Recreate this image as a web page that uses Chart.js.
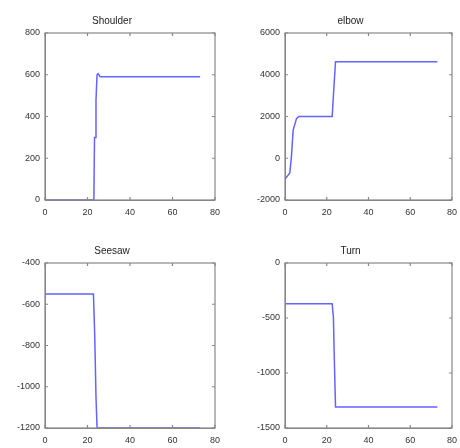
<!DOCTYPE html>
<html>
<head>
<meta charset="utf-8">
<script src="https://cdn.jsdelivr.net/npm/chart.js@4.4.0/dist/chart.umd.min.js"></script>
<style>
  body { margin: 0; background: #fff; }
  #wrap { position: relative; width: 460px; height: 448px; }
  canvas { position: absolute; }
</style>
</head>
<body>
<div id="wrap">
  <canvas id="shoulder"></canvas>
  <canvas id="elbow"></canvas>
  <canvas id="seesaw"></canvas>
  <canvas id="turn"></canvas>
</div>
<script>
// x ticks shared by all four plots
var xTicks = [0, 20, 40, 60, 80];

// Shoulder
var shoulderX = [0, 22.5, 23, 23.3, 23.6, 24, 24.5, 25, 26, 73];
var shoulderY = [0, 0, 0, 300, 300, 480, 600, 605, 590, 590];
var shoulderTicks = [0, 200, 400, 600, 800];

// elbow
var elbowX = [0, 2.3, 3.1, 3.9, 5.5, 6.7, 22.6, 23.4, 24.2, 73];
var elbowY = [-1000, -700, 100, 1350, 1900, 2000, 2000, 3350, 4620, 4620];
var elbowTicks = [-2000, 0, 2000, 4000, 6000];

// Seesaw
var seesawX = [0, 22.8, 23.4, 24, 24.5, 73];
var seesawY = [-550, -550, -750, -1050, -1200, -1200];
var seesawTicks = [-1200, -1000, -800, -600, -400];

// Turn
var turnX = [0, 22.6, 23.2, 23.6, 24.2, 73];
var turnY = [-370, -370, -500, -850, -1310, -1310];
var turnTicks = [-1500, -1000, -500, 0];

var FONT = "'Liberation Sans', Arial, sans-serif";

// box around the plot area with small ticks pointing inward (matlab style)
var boxPlugin = {
    id: 'box',
    afterDraw: function(chart) {
        var ctx = chart.ctx;
        var a = chart.chartArea;
        var xs = chart.scales.x;
        var ys = chart.scales.y;
        ctx.save();
        ctx.strokeStyle = '#888';
        ctx.lineWidth = 1.2;
        ctx.strokeRect(a.left, a.top, a.right - a.left, a.bottom - a.top);
        ctx.beginPath();
        xs.ticks.forEach(function(t) {
            var px = xs.getPixelForValue(t.value);
            ctx.moveTo(px, a.bottom); ctx.lineTo(px, a.bottom - 3);
            ctx.moveTo(px, a.top); ctx.lineTo(px, a.top + 3);
        });
        ys.ticks.forEach(function(t) {
            var py = ys.getPixelForValue(t.value);
            ctx.moveTo(a.left, py); ctx.lineTo(a.left + 3, py);
            ctx.moveTo(a.right, py); ctx.lineTo(a.right - 3, py);
        });
        ctx.stroke();
        ctx.restore();
    }
};

function makePlot(id, title, xVals, yVals, yTicks, box) {
    var canvas = document.getElementById(id);
    canvas.width = 40 + box.w + 8;
    canvas.height = 24 + box.h + 20;
    canvas.style.left = (box.left - 40) + 'px';
    canvas.style.top = (box.top - 24) + 'px';

    var points = xVals.map(function(x, i) { return { x: x, y: yVals[i] }; });

    new Chart(canvas, {
        type: 'line',
        data: {
            datasets: [{
                data: points,
                borderColor: '#6464ff',
                borderWidth: 1.5,
                pointRadius: 0,
                tension: 0,
                fill: false
            }]
        },
        options: {
            responsive: false,
            animation: false,
            layout: { padding: { left: 0, right: 8, top: 0, bottom: 0 } },
            plugins: {
                legend: { display: false },
                tooltip: { enabled: false },
                title: {
                    display: true,
                    text: title,
                    color: '#222',
                    font: { family: FONT, size: 10, weight: 'normal' },
                    padding: { top: 6, bottom: 6 }
                }
            },
            scales: {
                x: {
                    type: 'linear',
                    min: xTicks[0],
                    max: xTicks[xTicks.length - 1],
                    afterBuildTicks: function(s) { s.ticks = xTicks.map(function(v) { return { value: v }; }); },
                    afterFit: function(s) { s.height = 20; },
                    grid: { drawOnChartArea: false, drawTicks: false },
                    border: { display: true, color: '#888' },
                    ticks: {
                        color: '#333', padding: 7, maxRotation: 0,
                        font: { family: FONT, size: 9 },
                        callback: function(v) { return String(v); }
                    }
                },
                y: {
                    type: 'linear',
                    min: yTicks[0],
                    max: yTicks[yTicks.length - 1],
                    afterBuildTicks: function(s) { s.ticks = yTicks.map(function(v) { return { value: v }; }); },
                    afterFit: function(s) { s.width = 40; },
                    grid: { drawOnChartArea: false, drawTicks: false },
                    border: { display: true, color: '#888' },
                    ticks: {
                        color: '#333', padding: 5,
                        font: { family: FONT, size: 9 },
                        callback: function(v) { return String(v); }
                    }
                }
            }
        },
        plugins: [boxPlugin]
    });
}

makePlot('shoulder', 'Shoulder', shoulderX, shoulderY, shoulderTicks, { left: 45, top: 33, w: 174, h: 167 });
makePlot('elbow', 'elbow', elbowX, elbowY, elbowTicks, { left: 285, top: 33, w: 171, h: 167 });
makePlot('seesaw', 'Seesaw', seesawX, seesawY, seesawTicks, { left: 45, top: 263, w: 174, h: 165 });
makePlot('turn', 'Turn', turnX, turnY, turnTicks, { left: 285, top: 263, w: 171, h: 165 });
</script>
</body>
</html>
